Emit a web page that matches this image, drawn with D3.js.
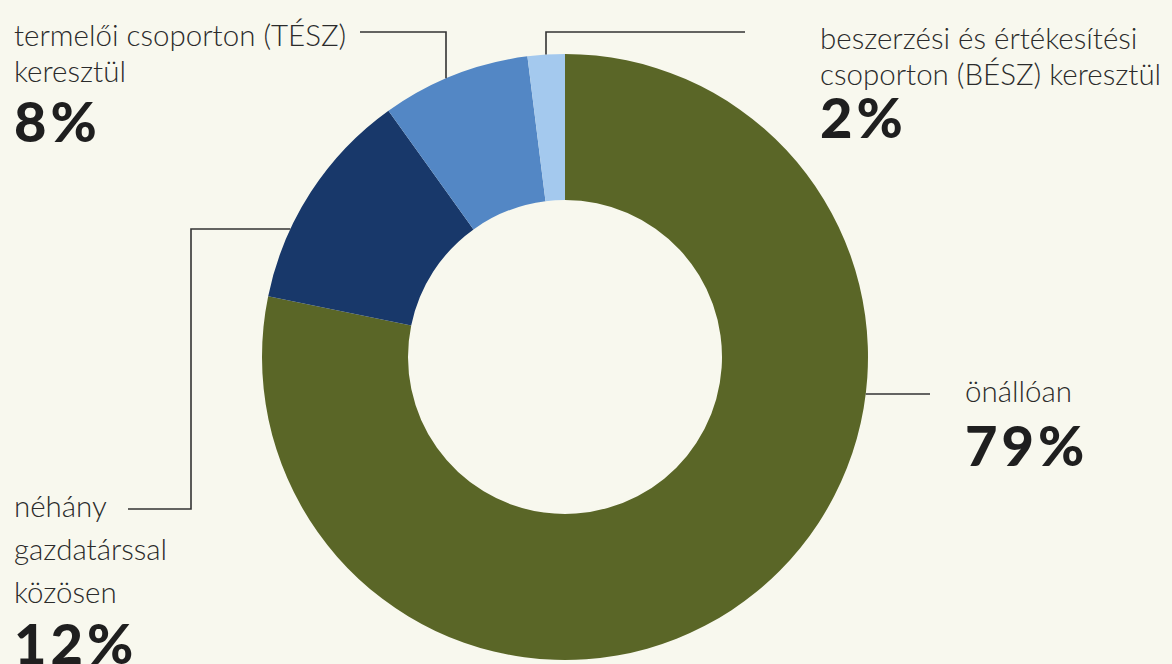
<!DOCTYPE html>
<html>
<head>
<meta charset="utf-8">
<script src="https://cdn.jsdelivr.net/npm/d3@7"></script>
<style>
  html, body { margin: 0; padding: 0; background: #f8f8ee; }
  svg { display: block; }
</style>
</head>
<body>
<script>
// Data
const categories = ["önállóan", "néhány gazdatárssal közösen", "termelői csoporton (TÉSZ) keresztül", "beszerzési és értékesítési csoporton (BÉSZ) keresztül"];
const values = [79, 12, 8, 2];
const labelLines = [
    ["önállóan"],
    ["néhány", "gazdatárssal", "közösen"],
    ["termelői csoporton (TÉSZ)", "keresztül"],
    ["beszerzési és értékesítési", "csoporton (BÉSZ) keresztül"]
];

let width = 1172;
let height = 664;
let cx = 565, cy = 357;
let outerR = 303, innerR = 157;

let color = d3.scaleOrdinal()
    .domain(categories)
    .range(["#5a6627", "#18386a", "#5387c5", "#a4c9ee"]);

let svg = d3.select("body").append("svg")
    .attr("width", width)
    .attr("height", height)
    .attr("viewBox", [0, 0, width, height]);

svg.append("rect").attr("width", width).attr("height", height).attr("fill", "#f8f8ee");

let pie = d3.pie().sort(null).value(d => d);
let arc = d3.arc().innerRadius(innerR).outerRadius(outerR);

let g = svg.append("g").attr("transform", `translate(${cx},${cy})`);
g.selectAll("path")
    .data(pie(values))
    .join("path")
    .attr("d", arc)
    .attr("fill", (d, i) => color(categories[i]));

// points on the outer circle
let arcY = x => cy - Math.sqrt(outerR * outerR - (x - cx) * (x - cx));
let arcXLeft = y => cx - Math.sqrt(outerR * outerR - (y - cy) * (y - cy));
let arcXRight = y => cx + Math.sqrt(outerR * outerR - (y - cy) * (y - cy));

// leader lines
let leaders = [
    [[930, 394], [arcXRight(394), 394]],
    [[128, 509], [191, 509], [191, 229], [arcXLeft(229), 229]],
    [[360, 32], [446, 32], [446, arcY(446)]],
    [[745, 32], [546, 32], [546, arcY(546)]]
];
svg.selectAll("path.leader")
    .data(leaders)
    .join("path")
    .attr("class", "leader")
    .attr("d", d3.line())
    .attr("fill", "none")
    .attr("stroke", "#333")
    .attr("stroke-width", 1.6);

// labels
let labelPos = [
    { x: 965, y: 402, lh: 42, pctY: 466 },
    { x: 14, y: 517, lh: 43, pctY: 664 },
    { x: 14, y: 46, lh: 36, pctY: 142 },
    { x: 820, y: 49, lh: 36, pctY: 138 }
];

let labels = svg.selectAll("g.label")
    .data(labelLines)
    .join("g")
    .attr("class", "label");

labels.each(function(lines, i) {
    let p = labelPos[i];
    let sel = d3.select(this);
    lines.forEach((t, j) => {
        sel.append("text")
            .attr("x", p.x)
            .attr("y", p.y + j * p.lh)
            .attr("fill", "#2b2b2b")
            .style("font-family", "Lato, 'Open Sans', sans-serif")
            .style("font-weight", 300)
            .style("font-size", "29.5px")
            .text(t);
    });
    sel.append("text")
        .attr("x", p.x)
        .attr("y", p.pctY)
        .attr("fill", "#1f1f1f")
        .style("font-family", "Lato, 'Open Sans', sans-serif")
        .style("font-weight", 900)
        .style("font-size", "56px")
        .style("letter-spacing", "4px")
        .text(values[i] + "%");
});
</script>
</body>
</html>
